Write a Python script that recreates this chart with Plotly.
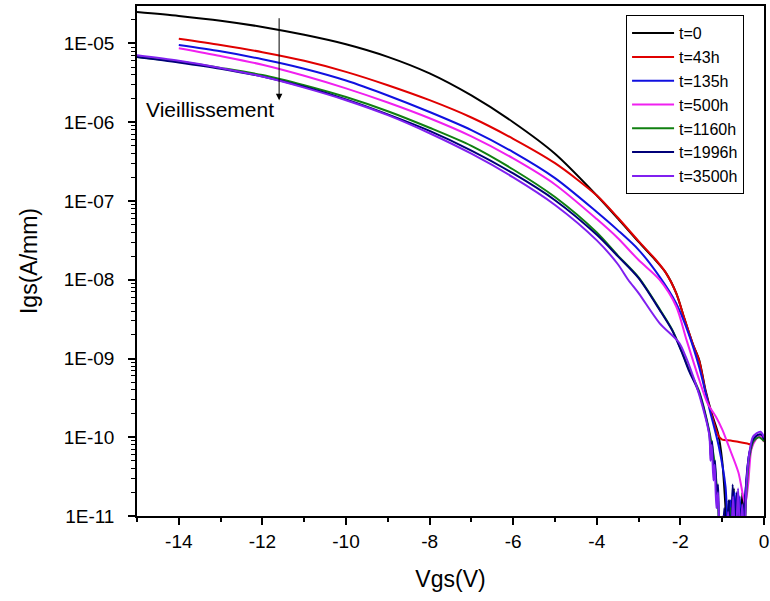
import numpy as np
import plotly.graph_objects as go

# ---------------- data (Igs given as log10 values) ----------------
series_names = ["t=0", "t=43h", "t=135h", "t=500h", "t=1160h", "t=1996h", "t=3500h"]

vgs_t0 = [-15, -14, -13, -12, -11, -10, -9, -8, -7, -6, -5, -4, -3.5, -3, -2.6, -2.35, -2.1, -1.9,
          -1.7, -1.55, -1.4, -1.25, -1.1, -1.0, -0.92, -0.87, -0.82, -0.77, -0.72, -0.67, -0.62,
          -0.57, -0.52, -0.47, -0.42, -0.35, -0.25, -0.15, -0.05, 0]
log_igs_t0 = [-4.60, -4.65, -4.71, -4.79, -4.89, -5.01, -5.17, -5.38, -5.66, -6.00, -6.40, -6.93,
              -7.22, -7.52, -7.75, -7.91, -8.17, -8.50, -8.82, -9.02, -9.40, -9.70, -9.95, -10.3,
              -10.9, -11.4, -10.8, -11.4, -10.65, -11.3, -10.75, -11.4, -10.7, -11.2, -10.6,
              -10.25, -10.05, -9.98, -9.98, -10.05]

vgs_t43 = [-14, -13, -12, -11, -10, -9, -8, -7, -6, -5, -4, -3.5, -3, -2.6, -2.35, -2.1, -1.9,
           -1.7, -1.55, -1.4, -1.25, -1.1, -1.0, -0.8, -0.6, -0.4, -0.3, -0.22, -0.12, -0.05, 0]
log_igs_t43 = [-4.94, -5.02, -5.11, -5.22, -5.36, -5.53, -5.72, -5.94, -6.21, -6.52, -6.93, -7.21,
               -7.51, -7.74, -7.91, -8.17, -8.50, -8.82, -9.03, -9.42, -9.72, -9.97, -10.03,
               -10.04, -10.06, -10.08, -10.09, -10.04, -9.98, -9.98, -10.06]

vgs_t135 = [-14, -13, -12, -11, -10, -9, -8, -7, -6, -5, -4, -3.5, -3, -2.5, -2.1, -1.8, -1.55,
            -1.3, -1.08, -0.92, -0.86, -0.8, -0.75, -0.7, -0.64, -0.58, -0.52, -0.46, -0.42,
            -0.35, -0.25, -0.15, -0.05, 0]
log_igs_t135 = [-5.02, -5.10, -5.20, -5.32, -5.47, -5.66, -5.87, -6.10, -6.38, -6.71, -7.14,
                -7.37, -7.62, -7.96, -8.30, -8.69, -9.11, -9.65, -10.12, -10.63, -11.3, -10.8,
                -11.4, -10.7, -11.5, -10.75, -11.4, -10.8, -10.55, -10.2, -10.05, -9.98, -10.0,
                -10.05]

vgs_t500 = [-14, -13, -12, -11, -10, -9, -8, -7, -6, -5, -4, -3.5, -3, -2.5, -2.1, -1.85, -1.55,
            -1.35, -1.15, -1.0, -0.84, -0.61, -0.45, -0.38, -0.3, -0.2, -0.1, 0]
log_igs_t500 = [-5.06, -5.16, -5.27, -5.41, -5.57, -5.75, -5.95, -6.18, -6.46, -6.79, -7.23,
                -7.47, -7.75, -8.0, -8.34, -8.77, -9.27, -9.57, -9.74, -9.90, -10.12, -10.45,
                -10.85, -10.6, -10.15, -10.03, -9.98, -10.05]

vgs_t1160 = [-15, -14, -13, -12, -11, -10, -9, -8, -7, -6, -5, -4, -3.5, -3, -2.5, -2.2, -1.96,
             -1.8, -1.55, -1.31, -1.2, -1.1, -1.02, -0.9, -0.8, -0.7, -0.6, -0.5, -0.42, -0.35,
             -0.25, -0.12, 0]
log_igs_t1160 = [-5.17, -5.23, -5.31, -5.40, -5.53, -5.68, -5.86, -6.07, -6.30, -6.60, -6.95,
                 -7.40, -7.69, -7.97, -8.37, -8.63, -8.92, -9.13, -9.42, -9.92, -10.25, -10.8,
                 -11.3, -11.3, -10.9, -11.4, -11.0, -11.4, -10.7, -10.25, -10.05, -10.0, -10.05]

vgs_t1996 = [-15, -14, -13, -12, -11, -10, -9, -8, -7, -6, -5, -4, -3.5, -3, -2.5, -2.2, -1.96,
             -1.8, -1.55, -1.31, -1.27, -1.24, -1.2, -1.17, -1.13, -1.1, -1.06, -1.0, -0.95,
             -0.9, -0.85, -0.8, -0.75, -0.7, -0.65, -0.6, -0.55, -0.5, -0.45, -0.4, -0.33,
             -0.25, -0.15, -0.05, 0]
log_igs_t1996 = [-5.17, -5.24, -5.32, -5.42, -5.55, -5.71, -5.90, -6.11, -6.36, -6.65, -6.99,
                 -7.43, -7.70, -7.98, -8.38, -8.64, -8.93, -9.15, -9.44, -9.95, -10.25, -10.05,
                 -10.45, -10.3, -10.8, -10.6, -11.3, -11.4, -10.9, -11.5, -10.8, -11.4, -10.6,
                 -11.3, -10.7, -11.5, -10.9, -11.4, -10.8, -10.4, -10.15, -10.02, -9.97, -9.97,
                 -10.03]

vgs_t3500 = [-15, -14, -13, -12, -11, -10, -9, -8, -7, -6, -5, -4, -3.5, -3.25, -3.0, -2.5,
             -2.03, -1.87, -1.7, -1.55, -1.31, -1.28, -1.25, -1.21, -1.18, -1.14, -1.1, -1.05,
             -0.98, -0.92, -0.86, -0.8, -0.74, -0.68, -0.62, -0.57, -0.52, -0.47, -0.42, -0.35,
             -0.27, -0.18, -0.08, 0]
log_igs_t3500 = [-5.15, -5.22, -5.31, -5.42, -5.56, -5.72, -5.91, -6.14, -6.40, -6.70, -7.05,
                 -7.50, -7.80, -8.0, -8.17, -8.55, -8.80, -8.98, -9.22, -9.46, -9.97, -10.3,
                 -10.1, -10.55, -10.35, -10.9, -10.7, -11.4, -11.0, -11.5, -10.95, -11.5,
                 -10.75, -11.4, -10.65, -11.3, -10.85, -11.4, -10.6, -10.2, -10.0, -9.95, -9.93,
                 -10.0]

vgs_list = [vgs_t0, vgs_t43, vgs_t135, vgs_t500, vgs_t1160, vgs_t1996, vgs_t3500]
log_igs_list = [log_igs_t0, log_igs_t43, log_igs_t135, log_igs_t500, log_igs_t1160,
                log_igs_t1996, log_igs_t3500]

x_tick_values = [-14, -12, -10, -8, -6, -4, -2, 0]
x_tick_labels = ["-14", "-12", "-10", "-8", "-6", "-4", "-2", "0"]
y_tick_values = [1e-11, 1e-10, 1e-9, 1e-8, 1e-7, 1e-6, 1e-5]
y_tick_labels = ["1E-11", "1E-10", "1E-09", "1E-08", "1E-07", "1E-06", "1E-05"]

# ---------------- styles ----------------
colors = ["#000000", "#E00000", "#1010E0", "#F020F0", "#108010", "#000078", "#8020F0"]
FONT = "Liberation Sans, Arial, sans-serif"

fig = go.Figure()
for name, xs, ys, c in zip(series_names, vgs_list, log_igs_list, colors):
    fig.add_trace(go.Scatter(
        x=xs, y=np.power(10.0, ys), mode="lines", name=name,
        line=dict(color=c, width=2, shape="spline", smoothing=0.8),
    ))

fig.update_layout(
    width=770, height=601,
    margin=dict(l=137, r=6, t=6, b=85, autoexpand=False),
    plot_bgcolor="white", paper_bgcolor="white",
    font=dict(family=FONT, color="black", size=19),
    legend=dict(x=0.78, y=0.982, xanchor="left", yanchor="top",
                bgcolor="white", bordercolor="black", borderwidth=1,
                font=dict(size=16, family=FONT), tracegroupgap=0, itemwidth=42),
)

fig.update_xaxes(
    range=[-15, 0], tickmode="array", tickvals=x_tick_values, ticktext=x_tick_labels,
    ticks="outside", ticklen=7, tickwidth=1.5, tickcolor="black",
    showline=True, linecolor="black", linewidth=1.5, mirror=True,
    showgrid=False, zeroline=False, automargin=False,
    tickfont=dict(size=19),
    minor=dict(ticks="outside", ticklen=4, tickwidth=1.5, tickcolor="black", dtick=1, tick0=0,
               showgrid=False),
    title=dict(text="Vgs(V)", font=dict(size=23), standoff=20),
)

fig.update_yaxes(
    type="log", range=[-11, -4.524], tickmode="array", tickvals=y_tick_values,
    ticktext=y_tick_labels,
    ticks="outside", ticklen=7, tickwidth=1.5, tickcolor="black", ticklabelstandoff=10,
    showline=True, linecolor="black", linewidth=1.5, mirror=True,
    showgrid=False, zeroline=False, automargin=False,
    tickfont=dict(size=19),
    minor=dict(ticks="outside", ticklen=4, tickwidth=1, tickcolor="black", dtick="D1",
               showgrid=False),
    title=dict(text="Igs(A/mm)", font=dict(size=23), standoff=20),
)

# "Vieillissement" label and downward arrow (log axis -> annotation y in log10 units)
fig.add_annotation(x=-13.26, y=-5.84, text="Vieillissement", showarrow=False,
                   font=dict(size=21, family=FONT, color="black"))
fig.add_annotation(x=-11.6, y=-5.72, ax=-11.6, ay=-4.66, axref="x", ayref="y",
                   xref="x", yref="y", text="", showarrow=True,
                   arrowhead=2, arrowsize=1.3, arrowwidth=1, arrowcolor="black")

fig.write_html("out.html", config={"displayModeBar": False},
               post_script="document.body.style.margin='0px';")
